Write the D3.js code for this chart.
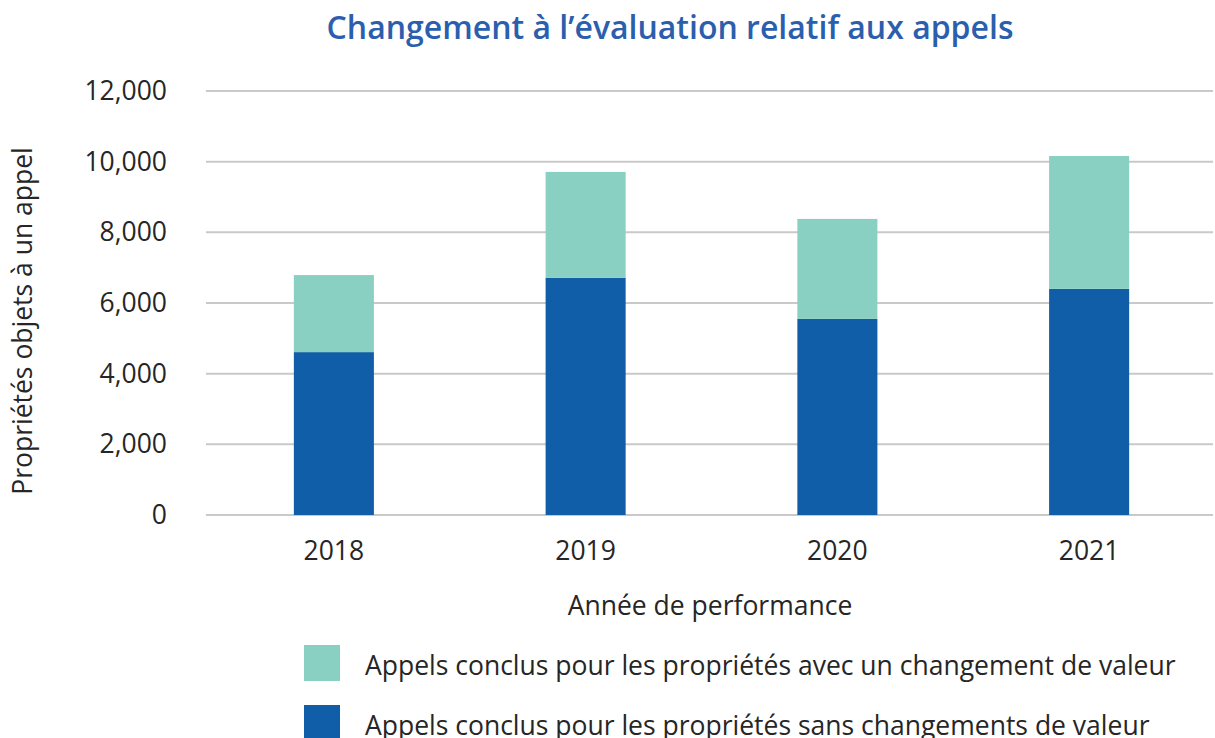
<!DOCTYPE html>
<html>
<head>
<meta charset="utf-8">
<script src="https://cdn.jsdelivr.net/npm/d3@7"></script>
<style>
  body { margin: 0; background: #fff; }
  text { font-family: "Open Sans", sans-serif; }
</style>
</head>
<body>
<svg id="chart" width="1215" height="738"></svg>
<script>
var years = ['2018', '2019', '2020', '2021'];
var sansChangement = [4610, 6710, 5550, 6400];
var avecChangement = [2180, 3000, 2830, 3760];
var yTicks = [0, 2000, 4000, 6000, 8000, 10000, 12000];
var seriesNames = ['Appels conclus pour les propriétés avec un changement de valeur',
                   'Appels conclus pour les propriétés sans changements de valeur'];

var svg = d3.select('#chart');
var plotLeft = 206, plotRight = 1213, plotTop = 91, plotBottom = 515;
var fs = 26.5;

var rows = years.map((y, i) => ({ year: y, sans: sansChangement[i], avec: avecChangement[i] }));
var stack = d3.stack().keys(['sans', 'avec'])(rows);
var colors = { sans: '#115ea8', avec: '#8ad0c2' };

var x = d3.scaleBand().domain(years).range([plotLeft + 2, plotRight + 2]).paddingInner(0.682).paddingOuter(0.341);
var y = d3.scaleLinear().domain([0, 12000]).range([plotBottom, plotTop]);

// gridlines
svg.append('g').selectAll('line').data(yTicks).enter().append('line')
  .attr('x1', plotLeft).attr('x2', plotRight)
  .attr('y1', d => y(d)).attr('y2', d => y(d))
  .attr('stroke', '#c9c9c9').attr('stroke-width', 2);

// y tick labels
svg.append('g').selectAll('text').data(yTicks).enter().append('text')
  .attr('x', 167).attr('y', d => y(d) + 9)
  .attr('text-anchor', 'end')
  .attr('font-size', fs).attr('fill', '#262626')
  .text(d => d3.format(',')(d));

// bars
svg.append('g').selectAll('g').data(stack).enter().append('g')
  .attr('fill', d => colors[d.key])
  .selectAll('rect').data(d => d).enter().append('rect')
  .attr('x', d => x(d.data.year))
  .attr('width', x.bandwidth())
  .attr('y', d => y(d[1]))
  .attr('height', d => y(d[0]) - y(d[1]));

// x labels
svg.append('g').selectAll('text').data(years).enter().append('text')
  .attr('x', d => x(d) + x.bandwidth() / 2).attr('y', 560)
  .attr('text-anchor', 'middle')
  .attr('font-size', fs).attr('fill', '#262626')
  .text(d => d);

svg.append('text')
  .attr('x', 710).attr('y', 615)
  .attr('text-anchor', 'middle')
  .attr('font-size', fs).attr('fill', '#262626')
  .text('Année de performance');

svg.append('text')
  .attr('transform', 'translate(32,321) rotate(-90)')
  .attr('text-anchor', 'middle')
  .attr('font-size', fs).attr('fill', '#262626')
  .text('Propriétés objets à un appel');

svg.append('text')
  .attr('x', 670).attr('y', 39)
  .attr('text-anchor', 'middle')
  .attr('font-size', 32).attr('font-weight', 600).attr('fill', '#2b5fae')
  .text('Changement à l’évaluation relatif aux appels');

// legend
var legend = svg.append('g').selectAll('g').data(['avec', 'sans']).enter().append('g')
  .attr('transform', (d, i) => 'translate(304,' + (645 + i * 60) + ')');
legend.append('rect').attr('width', 36).attr('height', 36).attr('fill', d => colors[d]);
legend.append('text').attr('x', 61).attr('y', 30)
  .attr('font-size', fs).attr('fill', '#262626')
  .text((d, i) => seriesNames[i]);
</script>
</body>
</html>
